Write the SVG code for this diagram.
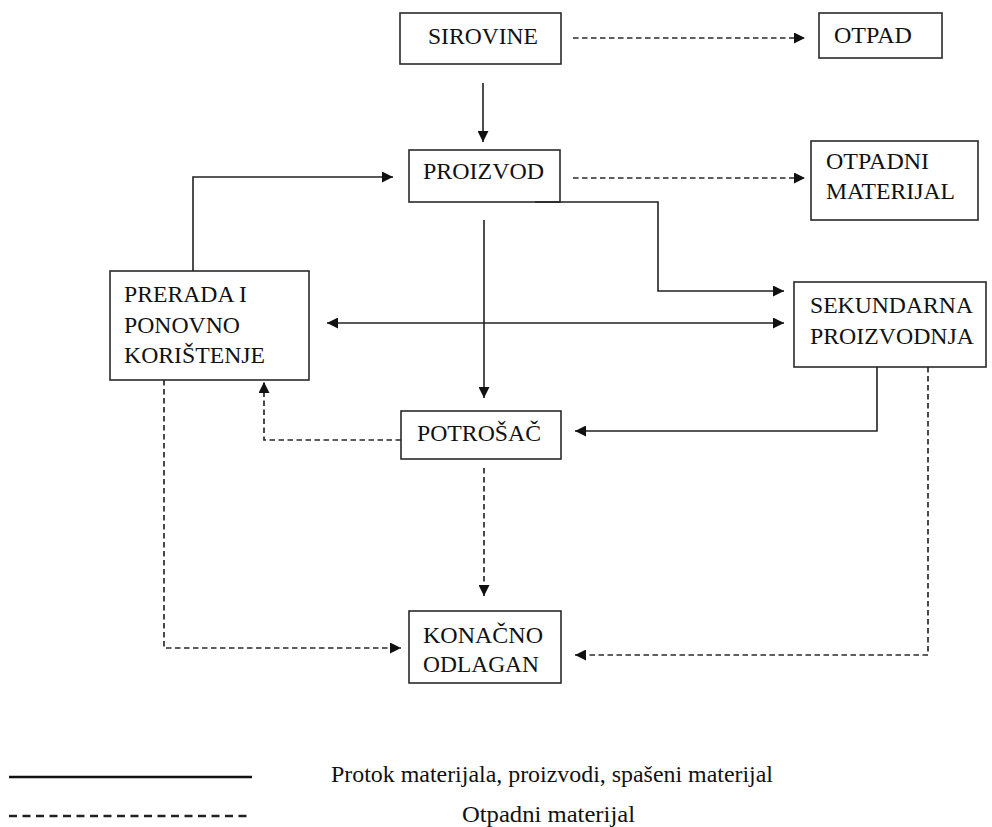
<svg xmlns="http://www.w3.org/2000/svg" width="992" height="827" viewBox="0 0 992 827">
<style>
.box{fill:#fff;stroke:#2a2a2a;stroke-width:1.6}
.t{font-size:23.5px;fill:#111}
.lg{font-size:24px;fill:#111}
.s{fill:none;stroke:#222;stroke-width:1.6}
.d{fill:none;stroke:#2a2a2a;stroke-width:1.7;stroke-dasharray:5.5 3.5}
</style>
<defs>
<marker id="ah" viewBox="0 0 10 10" markerWidth="11" markerHeight="11" refX="10" refY="5" orient="auto-start-reverse" markerUnits="userSpaceOnUse">
<path d="M0,0 L10,5 L0,10 z" fill="#111"/>
</marker>
</defs>
<rect width="992" height="827" fill="#fff"/>

<g font-family="'Liberation Serif', 'Times New Roman', Times, serif">
<g id="sirovine"><rect class="box" x="400" y="13" width="161" height="51"/><text class="t" x="428" y="44" textLength="110" lengthAdjust="spacingAndGlyphs">SIROVINE</text></g>
<g id="otpad"><rect class="box" x="819" y="13" width="123" height="45"/><text class="t" x="834" y="43" textLength="78" lengthAdjust="spacingAndGlyphs">OTPAD</text></g>
<g id="proizvod"><rect class="box" x="409" y="150" width="151" height="52"/><text class="t" x="423" y="179" textLength="121" lengthAdjust="spacingAndGlyphs">PROIZVOD</text></g>
<g id="otpadni"><rect class="box" x="811" y="141" width="167" height="79"/><text class="t" x="826" y="169" textLength="103" lengthAdjust="spacingAndGlyphs">OTPADNI</text><text class="t" x="826" y="199" textLength="129" lengthAdjust="spacingAndGlyphs">MATERIJAL</text></g>
<g id="prerada"><rect class="box" x="110" y="271" width="199" height="109"/><text class="t" x="124" y="302" textLength="123" lengthAdjust="spacingAndGlyphs">PRERADA I</text><text class="t" x="124" y="333" textLength="116" lengthAdjust="spacingAndGlyphs">PONOVNO</text><text class="t" x="124" y="363" textLength="141" lengthAdjust="spacingAndGlyphs">KORIŠTENJE</text></g>
<g id="sekundarna"><rect class="box" x="794" y="282" width="192" height="85"/><text class="t" x="810" y="313" textLength="163" lengthAdjust="spacingAndGlyphs">SEKUNDARNA</text><text class="t" x="810" y="344" textLength="164" lengthAdjust="spacingAndGlyphs">PROIZVODNJA</text></g>
<g id="potrosac"><rect class="box" x="401" y="411" width="160" height="48"/><text class="t" x="417" y="441" textLength="124" lengthAdjust="spacingAndGlyphs">POTROŠAČ</text></g>
<g id="konacno"><rect class="box" x="409" y="611" width="152" height="72"/><text class="t" x="423" y="643" textLength="120" lengthAdjust="spacingAndGlyphs">KONAČNO</text><text class="t" x="423" y="672" textLength="116" lengthAdjust="spacingAndGlyphs">ODLAGAN</text></g>

<g id="legend">
<line x1="9" y1="777" x2="252" y2="777" stroke="#111" stroke-width="2.4"/>
<line x1="9" y1="816" x2="252" y2="816" stroke="#222" stroke-width="2.4" stroke-dasharray="8 5.5"/>
<text class="lg" x="331" y="782" textLength="442" lengthAdjust="spacingAndGlyphs">Protok materijala, proizvodi, spašeni materijal</text>
<text class="lg" x="462" y="822" textLength="173" lengthAdjust="spacingAndGlyphs">Otpadni materijal</text>
</g>
</g>

<g id="connectors">
<path class="d" d="M573,38 H805" marker-end="url(#ah)"/>
<path class="s" d="M483,83 V142" marker-end="url(#ah)"/>
<path class="d" d="M573,178 H805" marker-end="url(#ah)"/>
<path class="s" d="M535,202 H658 V291 H784" marker-end="url(#ah)"/>
<path class="s" d="M193,271 V177 H393" marker-end="url(#ah)"/>
<path class="s" d="M327,323 H784" marker-start="url(#ah)" marker-end="url(#ah)"/>
<path class="s" d="M484,220 V398" marker-end="url(#ah)"/>
<path class="s" d="M877,367 V431 H575" marker-end="url(#ah)"/>
<path class="d" d="M401,440 H264 V382" marker-end="url(#ah)"/>
<path class="d" d="M164,380 V648 H401" marker-end="url(#ah)"/>
<path class="d" d="M484,468 V596" marker-end="url(#ah)"/>
<path class="d" d="M928,367 V655 H575" marker-end="url(#ah)"/>
</g>
</svg>
